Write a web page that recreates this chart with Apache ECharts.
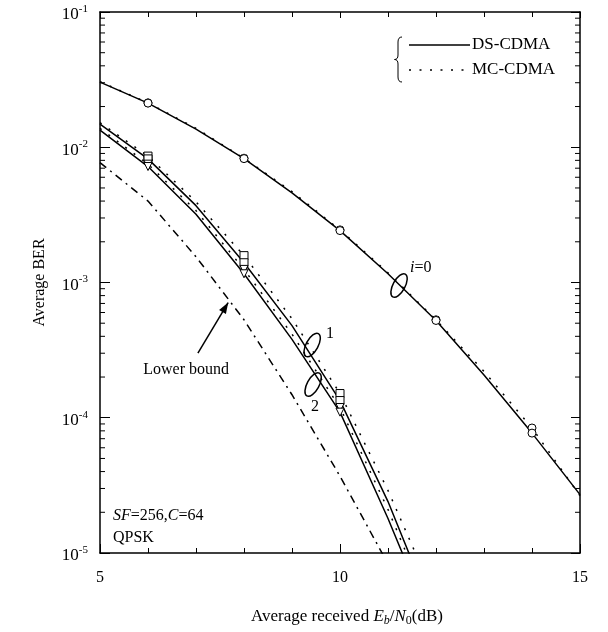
<!DOCTYPE html>
<html><head><meta charset="utf-8">
<script src="https://cdn.jsdelivr.net/npm/echarts@6/dist/echarts.min.js"></script>
<style>html,body{margin:0;padding:0;background:#fff}#c{width:608px;height:632px}</style>
</head><body><div id="c"></div>
<script>
// ---- data ----
const ebn0_i0 = [5, 6, 7, 8, 9, 10, 11, 12, 13, 14, 15];
const ber_ds_i0 = [3.03e-2, 2.12e-2, 1.36e-2, 8.24e-3, 4.6e-3, 2.42e-3, 1.16e-3, 5.24e-4, 2.07e-4, 7.7e-5, 2.7e-5];
const ber_mc_i0 = [3.05e-2, 2.13e-2, 1.38e-2, 8.3e-3, 4.7e-3, 2.45e-3, 1.18e-3, 5.3e-4, 2.2e-4, 8.4e-5, 2.65e-5];
const ebn0_i12 = [5, 6, 7, 8, 9, 10, 11, 12];
const ber_ds_i1 = [1.485e-2, 8.2e-3, 3.7e-3, 1.40e-3, 4.8e-4, 1.34e-4, 2.4e-5, 3.2e-6];
const ber_mc_i1 = [1.52e-2, 8.6e-3, 3.95e-3, 1.58e-3, 5.4e-4, 1.51e-4, 2.9e-5, 4.5e-6];
const ber_ds_i2 = [1.34e-2, 7.2e-3, 3.2e-3, 1.16e-3, 3.8e-4, 1.10e-4, 1.8e-5, 2.5e-6];
const ber_mc_i2 = [1.38e-2, 7.5e-3, 3.4e-3, 1.25e-3, 4.15e-4, 1.19e-4, 2.1e-5, 3.0e-6];
const ebn0_lb = [5, 6, 7, 8, 9, 10, 11];
const ber_lb = [7.7e-3, 4.0e-3, 1.55e-3, 5.3e-4, 1.48e-4, 3.7e-5, 8.3e-6];
const marks_i0 = [6, 8, 10, 12, 14];
const marks_i12 = [6, 8, 10];
const xTicks = [5, 10, 15];

const FONT = 'Liberation Serif';
const chart = echarts.init(document.getElementById('c'));
const pairs = (xs, ys) => xs.map((x, i) => [x, ys[i]]);

function lineSeries(name, xs, ys, type, sym, marks, rot) {
  return {
    name, type: 'line', data: pairs(xs, ys), xAxisIndex: 0, yAxisIndex: 0,
    smooth: false, clip: true, showAllSymbol: true, animation: false,
    symbol: sym ? (v) => (marks.indexOf(v[0]) >= 0 ? sym : 'none') : 'none',
    symbolSize: 8, symbolRotate: rot || 0,
    itemStyle: { color: '#fff', borderColor: '#000', borderWidth: 1 },
    lineStyle: { color: '#000', width: 1.5, type: type },
    emphasis: { disabled: true }
  };
}
const DOT = [2, 8.5];
const DASHDOT = [8, 5, 2, 5];

const option = {
  animation: false,
  backgroundColor: '#fff',
  grid: { left: 100, right: 28, top: 12, bottom: 74 },
  xAxis: [{
    type: 'value', min: 5, max: 15, interval: 5, position: 'bottom',
    name: '{n|Average received }{i|E}{si|b}{n|/}{i|N}{s|0}{n|(dB)}',
    nameLocation: 'middle', nameGap: 53,
    nameTextStyle: { padding: [0, 0, 0, 14], rich: {
      n: { fontFamily: FONT, fontSize: 17, color: '#000' },
      i: { fontFamily: FONT, fontSize: 17, fontStyle: 'italic', color: '#000' },
      si: { fontFamily: FONT, fontSize: 12, fontStyle: 'italic', color: '#000', padding: [9, 0, 0, 0] },
      s: { fontFamily: FONT, fontSize: 12, color: '#000', padding: [9, 0, 0, 0] } } },
    axisLine: { lineStyle: { color: '#000', width: 1.5 } },
    axisTick: { inside: true, length: 9, lineStyle: { color: '#000', width: 1 } },
    minorTick: { show: true, splitNumber: 5, length: 5, lineStyle: { color: '#000', width: 1 } },
    axisLabel: { fontFamily: FONT, fontSize: 16, color: '#000', margin: 17,
      formatter: v => (xTicks.indexOf(v) >= 0 ? String(v) : '') },
    splitLine: { show: false }
  }, {
    type: 'value', min: 5, max: 15, interval: 5, position: 'top',
    axisLine: { lineStyle: { color: '#000', width: 1.5 } },
    axisTick: { inside: true, length: 6, lineStyle: { color: '#000', width: 1 } },
    minorTick: { show: true, splitNumber: 5, length: 5, lineStyle: { color: '#000', width: 1 } },
    axisLabel: { show: false }, splitLine: { show: false }
  }],
  yAxis: [{
    type: 'log', logBase: 10, min: 1e-5, max: 1e-1, position: 'left',
    name: 'Average BER', nameLocation: 'middle', nameGap: 52, nameRotate: 90,
    nameTextStyle: { fontFamily: FONT, fontSize: 16, color: '#000' },
    axisLine: { lineStyle: { color: '#000', width: 1.5 } },
    axisTick: { inside: true, length: 10, lineStyle: { color: '#000', width: 1 } },
    axisLabel: { margin: 12, formatter: v => '{b|10}{s|' + Math.round(Math.log10(v)) + '}',
      rich: { b: { fontFamily: FONT, fontSize: 17, color: '#000', padding: [6, 0, 0, 0] },
              s: { fontFamily: FONT, fontSize: 11, color: '#000', padding: [0, 0, 6, 0] } } },
    splitLine: { show: false }
  }, {
    type: 'log', logBase: 10, min: 1e-5, max: 1e-1, position: 'right',
    axisLine: { lineStyle: { color: '#000', width: 1.5 } },
    axisTick: { inside: true, length: 9, lineStyle: { color: '#000', width: 1 } },
    axisLabel: { show: false }, splitLine: { show: false }
  }],
  series: [
    lineSeries('LB', ebn0_lb, ber_lb, DASHDOT, null, []),
    lineSeries('MC i=0', ebn0_i0, ber_mc_i0, DOT, 'circle', marks_i0),
    lineSeries('DS i=0', ebn0_i0, ber_ds_i0, 'solid', 'circle', marks_i0),
    lineSeries('MC i=1', ebn0_i12, ber_mc_i1, DOT, 'rect', marks_i12),
    lineSeries('DS i=1', ebn0_i12, ber_ds_i1, 'solid', 'rect', marks_i12),
    lineSeries('MC i=2', ebn0_i12, ber_mc_i2, DOT, 'triangle', marks_i12, 180),
    lineSeries('DS i=2', ebn0_i12, ber_ds_i2, 'solid', 'triangle', marks_i12, 180)
  ]
};
chart.setOption(option);

const P = (x, y) => chart.convertToPixel({ xAxisIndex: 0, yAxisIndex: 0 }, [x, y]);
const g = [];
const blk = { stroke: '#000', lineWidth: 1 };
// log minor ticks on left/right axes
for (let d = -5; d < -1; d++) {
  for (let k = 2; k <= 9; k++) {
    const v = k * Math.pow(10, d);
    const a = P(5, v), b = P(15, v);
    g.push({ type: 'line', silent: true, shape: { x1: a[0], y1: a[1], x2: a[0] + 5, y2: a[1] }, style: blk });
    g.push({ type: 'line', silent: true, shape: { x1: b[0], y1: b[1], x2: b[0] - 5, y2: b[1] }, style: blk });
  }
}
const txt = (x, y, text, extra) => ({ type: 'text', x, y, silent: true,
  style: Object.assign({ text, fill: '#000', font: '16px "' + FONT + '"', verticalAlign: 'middle' }, extra || {}) });
const rich = {
  n: { fontFamily: FONT, fontSize: 16, fill: '#000' },
  i: { fontFamily: FONT, fontSize: 16, fontStyle: 'italic', fill: '#000' }
};
// ellipses
function ell(x, y) {
  const p = P(x, y);
  g.push({ type: 'ellipse', x: p[0], y: p[1], rotation: -0.5, silent: true,
    shape: { cx: 0, cy: 0, rx: 6, ry: 13 }, style: { fill: 'none', stroke: '#000', lineWidth: 1.5 } });
}
ell(11.23, 9.5e-4);
ell(9.42, 3.45e-4);
ell(9.44, 1.76e-4);
let p = P(11.46, 1.29e-3);
g.push({ type: 'text', x: p[0], y: p[1], silent: true,
  style: { text: '{i|i}{n|=0}', rich, verticalAlign: 'middle' } });
p = P(9.79, 4.16e-4); g.push(txt(p[0] - 4, p[1], '1'));
p = P(9.48, 1.21e-4); g.push(txt(p[0] - 4, p[1], '2'));
// lower bound arrow
const a0 = P(7.04, 3.0e-4), a1 = P(7.67, 7.1e-4);
g.push({ type: 'line', silent: true, shape: { x1: a0[0], y1: a0[1], x2: a1[0], y2: a1[1] }, style: { stroke: '#000', lineWidth: 1.5 } });
{
  const dx = a1[0] - a0[0], dy = a1[1] - a0[1], L = Math.hypot(dx, dy);
  const ux = dx / L, uy = dy / L, hl = 11, hw = 4;
  const bx = a1[0] - ux * hl, by = a1[1] - uy * hl;
  g.push({ type: 'polygon', silent: true, shape: { points: [[a1[0], a1[1]], [bx - uy * hw, by + ux * hw], [bx + uy * hw, by - ux * hw]] }, style: { fill: '#000' } });
}
p = P(5.9, 2.27e-4); g.push(txt(p[0], p[1], 'Lower bound'));
p = P(5.27, 1.9e-5);
g.push({ type: 'text', x: p[0], y: p[1], silent: true,
  style: { text: '{i|SF}{n|=256,}{i|C}{n|=64}', rich, verticalAlign: 'middle' } });
p = P(5.27, 1.3e-5); g.push(txt(p[0], p[1], 'QPSK'));
// legend with brace
const braceStyle = { fill: 'none', stroke: '#000', lineWidth: 1 };
g.push({ type: 'bezierCurve', silent: true, shape: { x1: 402, y1: 37, x2: 398, y2: 42, cpx1: 398, cpy1: 37 }, style: braceStyle });
g.push({ type: 'line', silent: true, shape: { x1: 398, y1: 42, x2: 398, y2: 55 }, style: braceStyle });
g.push({ type: 'bezierCurve', silent: true, shape: { x1: 398, y1: 55, x2: 394.5, y2: 59.5, cpx1: 398, cpy1: 59.5 }, style: braceStyle });
g.push({ type: 'bezierCurve', silent: true, shape: { x1: 394.5, y1: 59.5, x2: 398, y2: 64, cpx1: 398, cpy1: 59.5 }, style: braceStyle });
g.push({ type: 'line', silent: true, shape: { x1: 398, y1: 64, x2: 398, y2: 77 }, style: braceStyle });
g.push({ type: 'bezierCurve', silent: true, shape: { x1: 398, y1: 77, x2: 402, y2: 82, cpx1: 398, cpy1: 82 }, style: braceStyle });
g.push({ type: 'line', silent: true, shape: { x1: 409, y1: 45, x2: 470, y2: 45 }, style: { stroke: '#000', lineWidth: 1.5 } });
g.push({ type: 'line', silent: true, shape: { x1: 409, y1: 70, x2: 468, y2: 70 }, style: { stroke: '#000', lineWidth: 1.5, lineDash: DOT } });
g.push(txt(472, 45, 'DS-CDMA', { font: '17px "' + FONT + '"' }));
g.push(txt(472, 70, 'MC-CDMA', { font: '17px "' + FONT + '"' }));
chart.setOption({ graphic: { elements: g } });
</script></body></html>
